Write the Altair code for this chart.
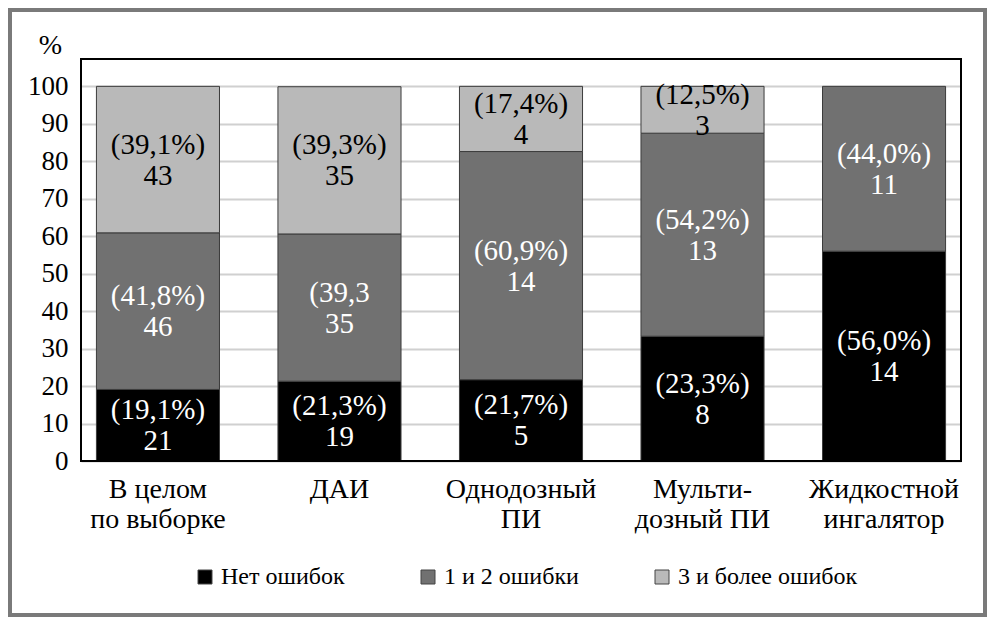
import altair as alt
import pandas as pd

categories = ["В целом\nпо выборке", "ДАИ", "Однодозный\nПИ", "Мульти-\nдозный ПИ", "Жидкостной\nингалятор"]
series = ["Нет ошибок", "1 и 2 ошибки", "3 и более ошибок"]
colors = ["#000000", "#717171", "#b9b9b9"]
text_colors = ["#ffffff", "#ffffff", "#000000"]

pct_none = [19.1, 21.3, 21.7, 33.3, 56.0]
pct_12 = [41.8, 39.3, 60.9, 54.2, 44.0]
pct_3 = [39.1, 39.3, 17.4, 12.5, 0.0]

n_none = [21, 19, 5, 8, 14]
n_12 = [46, 35, 14, 13, 11]
n_3 = [43, 35, 4, 3, 0]

lbl_none = ["(19,1%)", "(21,3%)", "(21,7%)", "(23,3%)", "(56,0%)"]
lbl_12 = ["(41,8%)", "(39,3", "(60,9%)", "(54,2%)", "(44,0%)"]
lbl_3 = ["(39,1%)", "(39,3%)", "(17,4%)", "(12,5%)", ""]

y_ticks = [0, 10, 20, 30, 40, 50, 60, 70, 80, 90, 100]

rows = []
for k, (s, pcts, ns, lbls) in enumerate(zip(series,
                                            [pct_none, pct_12, pct_3],
                                            [n_none, n_12, n_3],
                                            [lbl_none, lbl_12, lbl_3])):
    for c, p, n, l in zip(categories, pcts, ns, lbls):
        if p > 0:
            rows.append({"cat": c, "series": s, "k": k, "pct": p,
                         "l1": l, "l2": str(n), "tcol": text_colors[k]})
df = pd.DataFrame(rows)

FONT = "serif"
W, H = 880, 402
PL, PT, PR, PB = 73, 51, 26, 156

xscale = alt.Scale(domain=categories, paddingInner=0.322, paddingOuter=0.085)
yscale = alt.Scale(domain=[0, 107.3], nice=False, zero=True)

bars = alt.Chart(df).mark_bar(stroke="#3c3c3c", strokeWidth=1).encode(
    x=alt.X("cat:N", sort=categories, scale=xscale,
            axis=alt.Axis(title=None, labelAngle=0, ticks=False, domain=False, grid=False,
                          labelFont=FONT, labelFontSize=28, labelColor="black",
                          labelPadding=14, labelLineHeight=30, labelLimit=300,
                          labelExpr="split(datum.label, '\\n')")),
    y=alt.Y("pct:Q", stack="zero", scale=yscale,
            axis=alt.Axis(values=y_ticks, title="%", titleAngle=0, titleX=-31, titleY=-14,
                          titleAlign="center", titleBaseline="middle",
                          titleFont=FONT, titleFontSize=28, titleFontWeight="normal",
                          titleColor="black",
                          labelFont=FONT, labelFontSize=27, labelColor="black",
                          labelPadding=13, ticks=False, domain=False,
                          grid=True, gridColor="#d0d0d0", gridWidth=2)),
    color=alt.Color("series:N", scale=alt.Scale(domain=series, range=colors),
                    legend=alt.Legend(title=None, orient="none", legendX=112, legendY=506,
                                      direction="horizontal", symbolType="square",
                                      symbolSize=196, symbolStrokeColor="#444444",
                                      symbolStrokeWidth=1, labelFont=FONT, labelFontSize=24,
                                      labelColor="black", columnPadding=71, labelOffset=4,
                                      labelLimit=400)),
    order=alt.Order("k:Q", sort="ascending"),
)

stacked = alt.Chart(df).transform_stack(
    stack="pct", groupby=["cat"], sort=[alt.SortField("k", order="ascending")], as_=["y0", "y1"]
).transform_calculate(mid="(datum.y0 + datum.y1) / 2")

text_top = stacked.mark_text(font=FONT, fontSize=29, baseline="middle", align="center", dy=-15).encode(
    x=alt.X("cat:N", sort=categories, scale=xscale),
    y=alt.Y("mid:Q", scale=yscale),
    text=alt.Text("l1:N"),
    color=alt.Color("tcol:N", scale=None),
)
text_bot = stacked.mark_text(font=FONT, fontSize=29, baseline="middle", align="center", dy=16).encode(
    x=alt.X("cat:N", sort=categories, scale=xscale),
    y=alt.Y("mid:Q", scale=yscale),
    text=alt.Text("l2:N"),
    color=alt.Color("tcol:N", scale=None),
)

one = pd.DataFrame({"a": [0]})
plot_frame = alt.Chart(one).mark_rect(
    fillOpacity=0, stroke="#000000", strokeWidth=2
).encode(
    x=alt.value(0), x2=alt.value(W), y=alt.value(0), y2=alt.value(H),
)

outer_frame = alt.Chart(one).mark_rect(
    fillOpacity=0, stroke="#7a7a7a", strokeWidth=4
).encode(
    x=alt.value(-PL + 2), x2=alt.value(W + PR - 2),
    y=alt.value(-PT + 2), y2=alt.value(H + PB - 2),
)

chart = alt.layer(bars, text_top, text_bot, plot_frame, outer_frame).properties(
    width=W, height=H, padding=0,
)

chart.save("out.html", embed_options={"renderer": "svg", "actions": False})
